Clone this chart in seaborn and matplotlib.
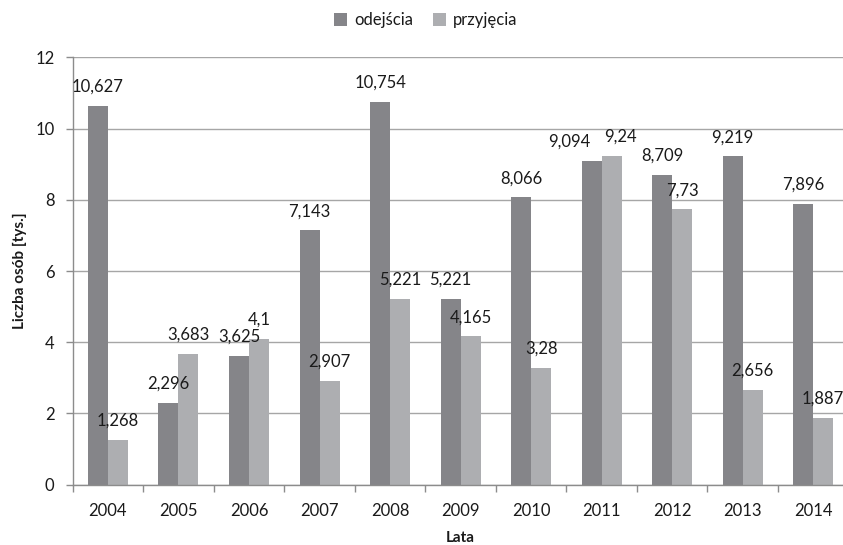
import matplotlib
matplotlib.use("Agg")
import matplotlib.pyplot as plt
import seaborn as sns
import pandas as pd
import numpy as np

years = ["2004", "2005", "2006", "2007", "2008", "2009", "2010", "2011", "2012", "2013", "2014"]
odejscia = [10.627, 2.296, 3.625, 7.143, 10.754, 5.221, 8.066, 9.094, 8.709, 9.219, 7.896]
przyjecia = [1.268, 3.683, 4.1, 2.907, 5.221, 4.165, 3.28, 9.24, 7.73, 2.656, 1.887]
series_names = ["odejścia", "przyjęcia"]
colors = ["#858589", "#adaeb1"]

df = pd.DataFrame({
    "Lata": years * 2,
    "value": odejscia + przyjecia,
    "series": [series_names[0]] * len(years) + [series_names[1]] * len(years),
})

sns.set_theme(style="white")
plt.rcParams["font.family"] = ["Lato", "DejaVu Sans"]
text_color = "#1a1a1a"
fs = 12

fig = plt.figure(figsize=(8.43, 5.45), dpi=100)
ax = fig.add_axes([0.0862, 0.1106, 0.9203, 0.7842])

sns.barplot(data=df, x="Lata", y="value", hue="series", palette=colors,
            width=0.567, linewidth=0, saturation=1, ax=ax, legend=True, errorbar=None)

ax.set_ylim(0, 12)
ax.set_xlim(-0.5, len(years) - 0.5)
ax.set_yticks(np.arange(0, 13, 2))
ax.set_yticklabels([str(v) for v in range(0, 13, 2)])
ax.yaxis.grid(True, color="#a6a6a6", linewidth=1)
ax.set_axisbelow(True)

for s in ["top", "right"]:
    ax.spines[s].set_visible(False)
for s in ["left", "bottom"]:
    ax.spines[s].set_color("#8c8c8c")
    ax.spines[s].set_linewidth(1)

ax.set_xticks(np.arange(-0.5, len(years), 1.0), minor=True)
ax.tick_params(axis="x", which="major", length=0, pad=13, labelsize=fs, labelcolor=text_color)
ax.tick_params(axis="x", which="minor", length=5, color="#8c8c8c", width=1, bottom=True)
ax.tick_params(axis="y", which="major", length=5, color="#8c8c8c", width=1, left=True,
               labelsize=fs, labelcolor=text_color, pad=8)

ax.set_xlabel("Lata", fontsize=11, fontweight="bold", color=text_color, labelpad=9)
ax.set_ylabel("Liczba osób [tys.]", fontsize=11, fontweight="bold", color=text_color, labelpad=6)

label_texts = []
for cont in ax.containers:
    labels = [("%g" % b.get_height()).replace(".", ",") for b in cont]
    label_texts.append(ax.bar_label(cont, labels=labels, padding=8, fontsize=fs,
                                    color=text_color, clip_on=False))

# Nudge the two crowded 2011 labels apart, as in the reference
i2011 = years.index("2011")
a = label_texts[0][i2011]
a.xyann = (a.xyann[0] - 16, a.xyann[1])
b = label_texts[1][i2011]
b.xyann = (b.xyann[0] + 6.5, b.xyann[1])

handles, lbls = ax.get_legend_handles_labels()
ax.legend_.remove()
fig.legend(handles, lbls, loc="upper center", bbox_to_anchor=(0.505, 1.005), ncol=2,
           frameon=False, handlelength=0.8, handleheight=0.8, handletextpad=0.4,
           columnspacing=1.2, fontsize=fs, labelcolor=text_color)

fig.savefig("out.png", dpi=100)
